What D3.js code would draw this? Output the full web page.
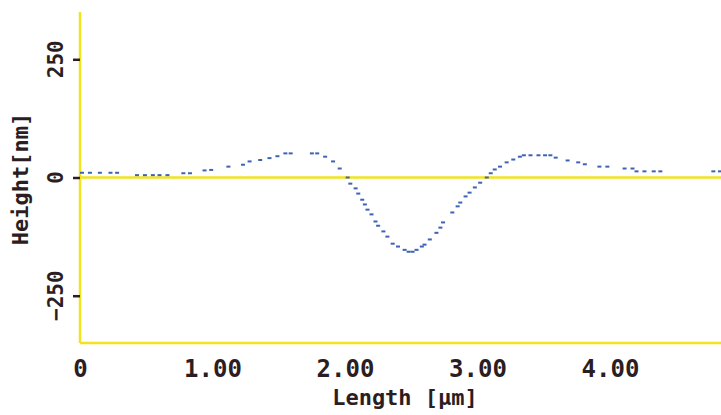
<!DOCTYPE html>
<html>
<head>
<meta charset="utf-8">
<script src="https://d3js.org/d3.v7.min.js"></script>
<style>
  body { margin: 0; background: #fff; }
  text { font-family: "DejaVu Sans Mono", monospace; font-weight: bold; fill: #2b1d22; }
</style>
</head>
<body>
<script>
// profile readings: length in um, height in nm
var lengthUm = [0.015, 0.075, 0.15, 0.23, 0.28, 0.43, 0.49, 0.55, 0.60, 0.66, 0.78, 0.83, 0.94, 0.99,
  1.12, 1.23, 1.28, 1.36, 1.43, 1.49, 1.55, 1.59, 1.75, 1.79, 1.85, 1.91, 1.96, 2.02, 2.04, 2.08,
  2.10, 2.13, 2.15, 2.17, 2.20, 2.23, 2.25, 2.29, 2.32, 2.36, 2.40, 2.45, 2.48, 2.51, 2.54, 2.58,
  2.60, 2.64, 2.69, 2.72, 2.74, 2.81, 2.85, 2.87, 2.91, 2.94, 2.98, 3.02, 3.07, 3.10, 3.13, 3.17,
  3.22, 3.27, 3.32, 3.35, 3.40, 3.46, 3.51, 3.55, 3.59, 3.68, 3.76, 3.81, 3.92, 3.98, 4.11, 4.17,
  4.20, 4.26, 4.33, 4.38, 4.78, 4.83];
var heightNm = [10, 10, 10, 10, 10, 5, 5, 5, 5, 5, 9, 9, 15, 16,
  23, 27, 34, 37, 41, 45, 51, 51, 51, 51, 44, 34, 19, 0, -13, -23,
  -34, -47, -57, -68, -78, -93, -102, -114, -125, -140, -146, -153, -157, -157, -153, -146,
  -142, -131, -117, -106, -95, -74, -61, -53, -40, -32, -21, -11, 0, 9, 17, 23,
  32, 38, 44, 47, 47, 47, 47, 47, 42, 36, 32, 28, 23, 23, 19, 19,
  13, 13, 13, 13, 13, 13];
var xTicks = [0, 1, 2, 3, 4];
var xTickLabels = ["0", "1.00", "2.00", "3.00", "4.00"];
var yTicks = [-250, 0, 250];

var W = 721, H = 415;
var yellow = "#f1e31f", blue = "#3f63b4";

var svg = d3.select("body").append("svg")
  .attr("width", W).attr("height", H);

var x = d3.scaleLinear().domain([0, 5]).range([80, 742.5]);
var y = d3.scaleLinear().domain([-350, 350]).range([343, 12]);

// frame: left axis line and bottom line
svg.append("line").attr("x1", x(0)).attr("x2", x(0))
  .attr("y1", y(350)).attr("y2", y(-350))
  .attr("stroke", yellow).attr("stroke-width", 2.5);
svg.append("line").attr("x1", x(0)).attr("x2", W)
  .attr("y1", y(-350)).attr("y2", y(-350))
  .attr("stroke", yellow).attr("stroke-width", 2.5);
// zero line
svg.append("line").attr("x1", x(0)).attr("x2", W)
  .attr("y1", y(0)).attr("y2", y(0))
  .attr("stroke", yellow).attr("stroke-width", 2.5);

// y ticks
var yAxis = svg.append("g")
  .attr("transform", "translate(" + x(0) + ",0)")
  .call(d3.axisLeft(y).tickValues(yTicks).tickSize(7).tickFormat(""));
yAxis.select(".domain").remove();
yAxis.selectAll(".tick line").attr("stroke", "#2b1d22").attr("stroke-width", 2.5);

yTicks.forEach(function(t) {
  svg.append("text")
    .attr("transform", "translate(63," + y(t) + ") rotate(-90)")
    .attr("text-anchor", "middle")
    .style("font-size", "21px")
    .text(t < 0 ? "\u2212" + Math.abs(t) : t);
});

// x tick labels
var xAxis = svg.append("g")
  .attr("transform", "translate(0,360)")
  .call(d3.axisBottom(x).tickValues(xTicks).tickSize(0)
    .tickFormat(function(d, i) { return xTickLabels[i]; }));
xAxis.select(".domain").remove();
xAxis.selectAll("text")
  .attr("y", 0)
  .style("font-size", "24px")
  .style("font-family", "DejaVu Sans Mono")
  .style("font-weight", "bold")
  .attr("fill", "#2b1d22");

// axis titles
svg.append("text")
  .attr("x", 405).attr("y", 405)
  .attr("text-anchor", "middle")
  .style("font-size", "22px")
  .text("Length [\u00b5m]");
svg.append("text")
  .attr("transform", "translate(28,179) rotate(-90)")
  .attr("text-anchor", "middle")
  .style("font-size", "22px")
  .text("Height[nm]");

// profile points
svg.append("g").selectAll("rect")
  .data(lengthUm)
  .enter().append("rect")
  .attr("x", function(d) { return x(d) - 2; })
  .attr("y", function(d, i) { return y(heightNm[i]) - 1; })
  .attr("width", 4).attr("height", 2)
  .attr("fill", blue);
</script>
</body>
</html>
